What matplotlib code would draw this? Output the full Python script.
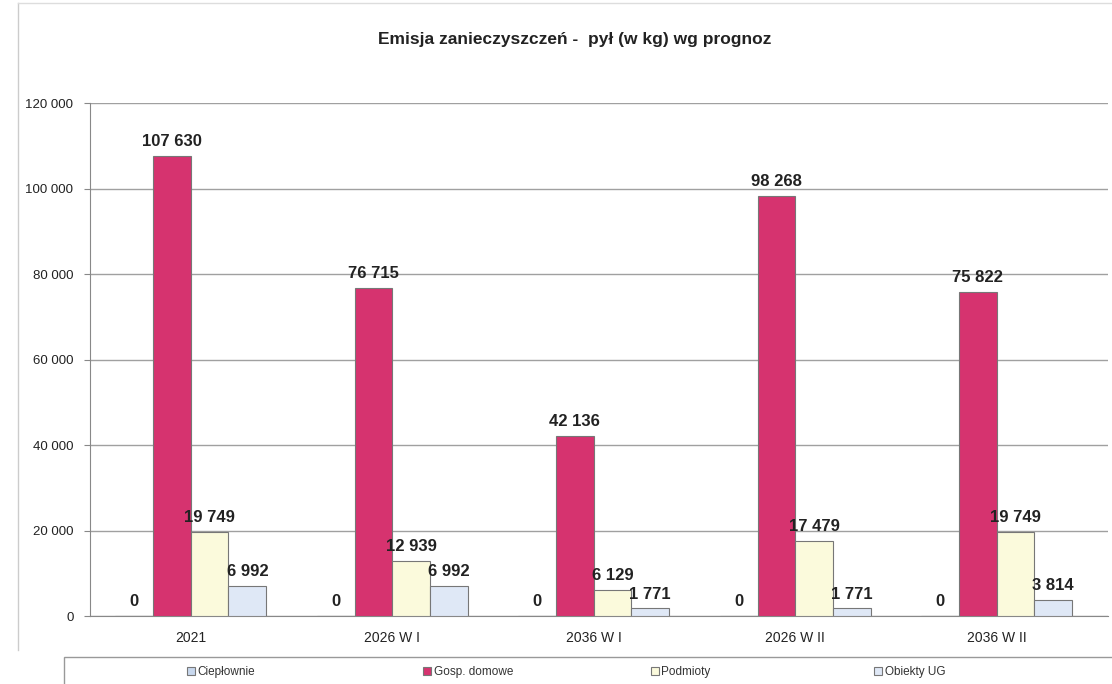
import matplotlib.pyplot as plt
import numpy as np
from matplotlib.lines import Line2D
from matplotlib.patches import Rectangle

plt.rcParams['font.family'] = ['Liberation Sans', 'DejaVu Sans']

categories = ['2021', '2026 W I', '2036 W I', '2026 W II', '2036 W II']
series = ['Ciepłownie', 'Gosp. domowe', 'Podmioty', 'Obiekty UG']
cieplownie = [0, 0, 0, 0, 0]
gosp_domowe = [107630, 76715, 42136, 98268, 75822]
podmioty = [19749, 12939, 6129, 17479, 19749]
obiekty_ug = [6992, 6992, 1771, 1771, 3814]
y_ticks = [0, 20000, 40000, 60000, 80000, 100000, 120000]

colors = ['#c8d8ee', '#d6336f', '#fbfadc', '#dfe8f6']
values = [cieplownie, gosp_domowe, podmioty, obiekty_ug]


def fmt(v):
    return f'{v:,.0f}'.replace(',', ' ')


fig = plt.figure(figsize=(11.12, 6.84), dpi=100)
ax = fig.add_axes([0.081, 0.0994, 0.915, 0.7497])

x = np.arange(len(categories))
w = 0.187
for i, (name, vals) in enumerate(zip(series, values)):
    pos = x + (i - 1.5) * w
    ax.bar(pos, vals, width=w, color=colors[i], edgecolor='#777777',
           linewidth=0.8, label=name, zorder=3)
    for p, v in zip(pos, vals):
        ax.text(p, v + 1600, fmt(v), ha='center', va='bottom',
                fontsize=12, fontweight='bold', color='#222222', zorder=4)

ax.set_ylim(0, 120000)
ax.set_xlim(-0.5, 4.55)
ax.set_yticks(y_ticks)
ax.set_yticklabels([fmt(t) for t in y_ticks], fontsize=9.5, color='#222222')
ax.set_xticks(x)
ax.set_xticklabels(categories, fontsize=10, color='#222222')
ax.tick_params(axis='x', length=0, pad=11)
ax.tick_params(axis='y', length=4, color='#888888', pad=8)
ax.yaxis.grid(True, color='#a0a0a0', linewidth=1.0, zorder=0)
for s in ['top', 'right']:
    ax.spines[s].set_visible(False)
ax.spines['left'].set_color('#888888')
ax.spines['bottom'].set_color('#888888')

fig.text(0.517, 0.942, 'Emisja zanieczyszczeń -  pył (w kg) wg prognoz',
         ha='center', va='center', fontsize=12.5, fontweight='bold', color='#222222')

# faint outer chart frame (left and top edges)
fig.add_artist(Line2D([0.016, 0.016], [0.05, 0.995], transform=fig.transFigure,
                      color='#cccccc', linewidth=1.0))
fig.add_artist(Line2D([0.016, 1.0], [0.995, 0.995], transform=fig.transFigure,
                      color='#dddddd', linewidth=1.0))

# legend box along the bottom
fig.add_artist(Rectangle((0.058, -0.01), 0.95, 0.05, transform=fig.transFigure,
                         fill=False, edgecolor='#999999', linewidth=1.0))
handles, labels = ax.get_legend_handles_labels()
centers = [0.199, 0.421, 0.612, 0.818]
for h, l, cx in zip(handles, labels, centers):
    lg = fig.legend([h], [l], loc='center', bbox_to_anchor=(cx, 0.017),
                    fontsize=8.5, frameon=False, handlelength=0.7,
                    handleheight=0.7, handletextpad=0.2, borderpad=0.1)
    for t in lg.get_texts():
        t.set_color('#333333')

fig.savefig('out.png', dpi=100)
